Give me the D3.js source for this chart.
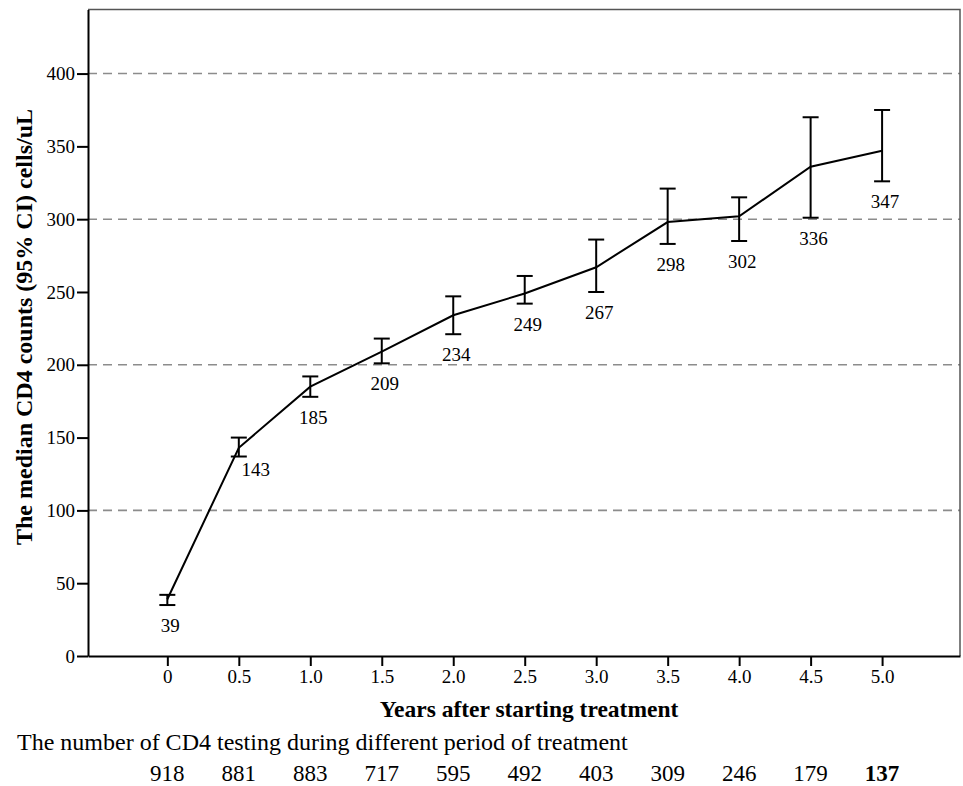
<!DOCTYPE html>
<html>
<head>
<meta charset="utf-8">
<script src="https://cdn.jsdelivr.net/npm/d3@7"></script>
<style>
  body { margin: 0; background: #fff; }
  text { font-family: "Liberation Serif", "Times New Roman", serif; fill: #000; }
</style>
</head>
<body>
<div id="container"></div>
<script>
// Data
const years = [0, 0.5, 1.0, 1.5, 2.0, 2.5, 3.0, 3.5, 4.0, 4.5, 5.0];
const medians = [39, 143, 185, 209, 234, 249, 267, 298, 302, 336, 347];
const lowerCI = [35, 137, 178, 201, 221, 242, 250, 283, 285, 301, 326];
const upperCI = [42, 150, 192, 218, 247, 261, 286, 321, 315, 370, 375];
const testCounts = [918, 881, 883, 717, 595, 492, 403, 309, 246, 179, 137];
const yTicks = [0, 50, 100, 150, 200, 250, 300, 350, 400];
const gridValues = [100, 200, 300, 400];

window.addEventListener('DOMContentLoaded', (event) => {

    const width = 963, height = 786;
    const left = 88, right = 960, top = 9.5, bottom = 656;

    const svg = d3.select('#container')
        .append('svg')
        .attr('width', width)
        .attr('height', height);

    const x = d3.scaleLinear().domain([-0.555, 5.545]).range([left, right]);
    const y = d3.scaleLinear().domain([0, 444]).range([bottom, top]);

    // dashed grid lines
    svg.selectAll('.grid')
        .data(gridValues)
        .enter()
        .append('line')
        .attr('x1', left)
        .attr('x2', right)
        .attr('y1', d => y(d))
        .attr('y2', d => y(d))
        .attr('stroke', '#8c8c8c')
        .attr('stroke-width', 1.6)
        .attr('stroke-dasharray', '9,6');

    // top and right frame
    svg.append('path')
        .attr('d', `M${left},${top}H${right}V${bottom}`)
        .attr('fill', 'none')
        .attr('stroke', '#555')
        .attr('stroke-width', 1.5);

    // y axis
    const yAxis = svg.append('g')
        .attr('transform', `translate(${left},0)`)
        .call(d3.axisLeft(y).tickValues(yTicks).tickSize(11).tickPadding(2).tickSizeOuter(0));
    yAxis.select('.domain').attr('stroke', '#000').attr('stroke-width', 2);
    yAxis.selectAll('.tick line').attr('stroke', '#000').attr('stroke-width', 2);
    yAxis.selectAll('.tick text').attr('font-size', 19).attr('font-family', '"Liberation Serif", serif');

    // x axis
    const xAxis = svg.append('g')
        .attr('transform', `translate(0,${bottom})`)
        .call(d3.axisBottom(x).tickValues(years).tickSize(10).tickPadding(0).tickSizeOuter(0)
            .tickFormat(d => d === 0 ? '0' : d3.format('.1f')(d)));
    xAxis.select('.domain').attr('stroke', '#000').attr('stroke-width', 2);
    xAxis.selectAll('.tick line').attr('stroke', '#000').attr('stroke-width', 2);
    xAxis.selectAll('.tick text')
        .attr('font-size', 19)
        .attr('font-family', '"Liberation Serif", serif')
        .attr('dy', null)
        .attr('y', 27);

    // error bars
    const capHalf = 8;
    const bars = svg.selectAll('.errbar')
        .data(years)
        .enter()
        .append('g')
        .attr('class', 'errbar');

    bars.append('line')
        .attr('x1', d => x(d))
        .attr('x2', d => x(d))
        .attr('y1', (d, i) => y(lowerCI[i]))
        .attr('y2', (d, i) => y(upperCI[i]))
        .attr('stroke', '#000')
        .attr('stroke-width', 2);

    bars.append('line')
        .attr('x1', d => x(d) - capHalf)
        .attr('x2', d => x(d) + capHalf)
        .attr('y1', (d, i) => y(upperCI[i]))
        .attr('y2', (d, i) => y(upperCI[i]))
        .attr('stroke', '#000')
        .attr('stroke-width', 2);

    bars.append('line')
        .attr('x1', d => x(d) - capHalf)
        .attr('x2', d => x(d) + capHalf)
        .attr('y1', (d, i) => y(lowerCI[i]))
        .attr('y2', (d, i) => y(lowerCI[i]))
        .attr('stroke', '#000')
        .attr('stroke-width', 2);

    // median line
    const line = d3.line()
        .x((d, i) => x(years[i]))
        .y(d => y(d));

    svg.append('path')
        .datum(medians)
        .attr('d', line)
        .attr('fill', 'none')
        .attr('stroke', '#000')
        .attr('stroke-width', 2);

    // value labels below the lower caps (second one nudged right, off the line)
    svg.selectAll('.vlabel')
        .data(medians)
        .enter()
        .append('text')
        .attr('x', (d, i) => x(years[i]) + (i === 1 ? 17 : 3))
        .attr('y', (d, i) => y(lowerCI[i]) + (i === 1 ? 19 : 27))
        .attr('text-anchor', 'middle')
        .attr('font-size', 19)
        .text(d => d);

    // axis titles
    svg.append('text')
        .attr('x', 529)
        .attr('y', 717)
        .attr('text-anchor', 'middle')
        .attr('font-size', 23.5)
        .attr('font-weight', 'bold')
        .text('Years after starting treatment');

    svg.append('text')
        .attr('transform', 'translate(32,327) rotate(-90)')
        .attr('text-anchor', 'middle')
        .attr('font-size', 24)
        .attr('font-weight', 'bold')
        .text('The median CD4 counts (95% CI) cells/uL');

    // testing counts below
    svg.append('text')
        .attr('x', 17)
        .attr('y', 750)
        .attr('font-size', 24)
        .text('The number of CD4 testing during different period of treatment');

    svg.selectAll('.count')
        .data(testCounts)
        .enter()
        .append('text')
        .attr('x', (d, i) => x(years[i]))
        .attr('y', 781)
        .attr('text-anchor', 'middle')
        .attr('font-size', 23)
        .attr('font-weight', (d, i) => i === testCounts.length - 1 ? 'bold' : 'normal')
        .text(d => d);

}); // end of document ready
</script>
</body>
</html>
